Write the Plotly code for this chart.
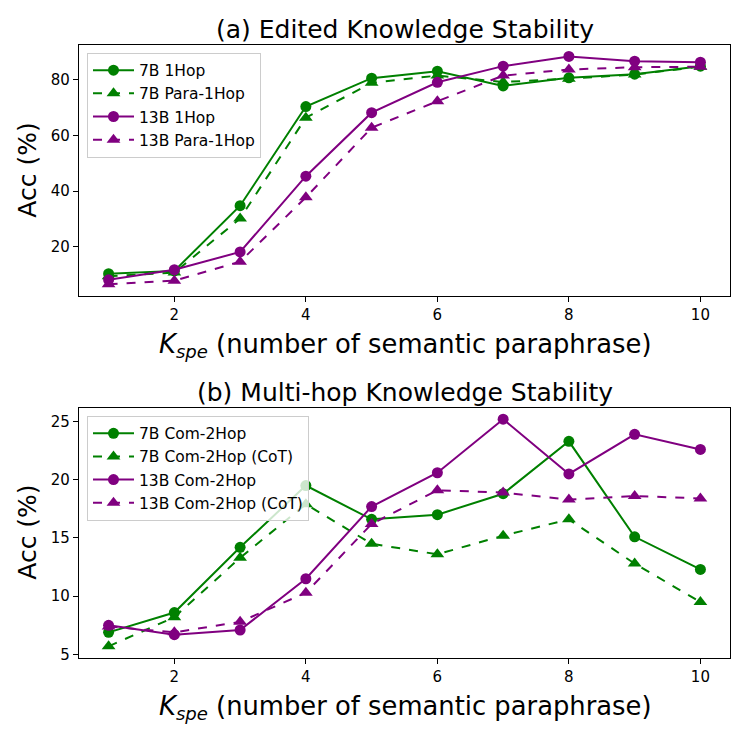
import plotly.graph_objects as go

k_values = [1, 2, 3, 4, 5, 6, 7, 8, 9, 10]

# (a) Edited Knowledge Stability
acc_7b_1hop = [10.4, 11.4, 34.8, 70.4, 80.6, 83.1, 77.8, 80.7, 82.0, 84.9]
acc_7b_para = [9.5, 10.8, 30.2, 66.4, 78.9, 81.5, 79.2, 80.4, 81.9, 84.7]
acc_13b_1hop = [8.2, 11.8, 18.2, 45.4, 68.2, 79.1, 84.9, 88.4, 86.7, 86.3]
acc_13b_para = [6.6, 7.9, 14.7, 37.8, 62.8, 72.3, 81.5, 83.7, 84.5, 84.7]

# (b) Multi-hop Knowledge Stability
acc_7b_com2 = [6.9, 8.6, 14.2, 19.5, 16.6, 17.0, 18.8, 23.3, 15.1, 12.3]
acc_7b_com2_cot = [5.7, 8.2, 13.3, 17.9, 14.5, 13.6, 15.2, 16.6, 12.8, 9.5]
acc_13b_com2 = [7.5, 6.7, 7.1, 11.5, 17.7, 20.6, 25.2, 20.5, 23.9, 22.6]
acc_13b_com2_cot = [7.4, 6.9, 7.8, 10.3, 16.2, 19.1, 18.9, 18.3, 18.6, 18.4]

top_names = ["7B 1Hop", "7B Para-1Hop", "13B 1Hop", "13B Para-1Hop"]
bot_names = ["7B Com-2Hop", "7B Com-2Hop (CoT)", "13B Com-2Hop", "13B Com-2Hop (CoT)"]
x_ticks = [2, 4, 6, 8, 10]
top_yticks = [20, 40, 60, 80]
bot_yticks = [5, 10, 15, 20, 25]

GREEN = "#008000"
PURPLE = "#800080"
FONT = "DejaVu Sans"

fig = go.Figure()

styles = [
    (GREEN, "solid", "circle", 11),
    (GREEN, "dash", "triangle-up", 12),
    (PURPLE, "solid", "circle", 11),
    (PURPLE, "dash", "triangle-up", 12),
]

for name, ys, (c, d, m, s) in zip(top_names, [acc_7b_1hop, acc_7b_para, acc_13b_1hop, acc_13b_para], styles):
    fig.add_trace(go.Scatter(
        x=k_values, y=ys, name=name, mode="lines+markers",
        line=dict(color=c, width=2, dash=d),
        marker=dict(color=c, size=s, symbol=m),
        xaxis="x", yaxis="y", legend="legend",
    ))

for name, ys, (c, d, m, s) in zip(bot_names, [acc_7b_com2, acc_7b_com2_cot, acc_13b_com2, acc_13b_com2_cot], styles):
    fig.add_trace(go.Scatter(
        x=k_values, y=ys, name=name, mode="lines+markers",
        line=dict(color=c, width=2, dash=d),
        marker=dict(color=c, size=s, symbol=m),
        xaxis="x2", yaxis="y2", legend="legend2",
    ))

axis_common = dict(
    showline=True, mirror=True, linecolor="black", linewidth=1.2,
    ticks="outside", ticklen=5, tickcolor="black", tickwidth=1.2,
    showgrid=False, zeroline=False,
    tickfont=dict(family=FONT, size=15, color="black"),
)

W = 747.0
OFF = 8.0  # page body margin offset


def fx(px):
    return (px - OFF) / W


def fy(py):
    return 1 - (py - OFF) / W


x_dom = [fx(79), fx(730)]
legend_common = dict(
    xanchor="left", yanchor="top",
    bgcolor="rgba(255,255,255,0.8)", bordercolor="#cccccc", borderwidth=1,
    font=dict(family=FONT, size=15.5, color="black"), tracegroupgap=0,
    itemwidth=41,
)
fig.update_layout(
    width=747, height=747,
    margin=dict(l=0, r=0, t=0, b=0),
    paper_bgcolor="white", plot_bgcolor="white",
    font=dict(family=FONT, color="black"),
    xaxis=dict(domain=x_dom, anchor="y", range=[0.55, 10.45], tickvals=x_ticks, **axis_common),
    yaxis=dict(domain=[fy(298), fy(45)], anchor="x", range=[2.5, 92.6], tickvals=top_yticks, **axis_common),
    xaxis2=dict(domain=x_dom, anchor="y2", range=[0.55, 10.45], tickvals=x_ticks, **axis_common),
    yaxis2=dict(domain=[fy(663), fy(411)], anchor="x2", range=[4.72, 26.18], tickvals=bot_yticks, **axis_common),
    legend=dict(x=fx(87), y=fy(53), **legend_common),
    legend2=dict(x=fx(87), y=fy(419), **legend_common),
)

xlabel = "<i>K</i><sub><i>spe</i></sub> (number of semantic paraphrase)"
cx = fx((79 + 730) / 2)


def ann(text, x, y, angle=0, size=25):
    return dict(text=text, x=x, y=y, textangle=angle,
                xref="paper", yref="paper", showarrow=False,
                xanchor="center", yanchor="middle",
                font=dict(family=FONT, size=size, color="black"))


annotations = [
    ann("(a) Edited Knowledge Stability", cx, fy(30)),
    ann("(b) Multi-hop Knowledge Stability", cx, fy(396)),
    ann(xlabel, cx, fy(348), size=25.8),
    ann(xlabel, cx, fy(713), size=25.8),
    ann("Acc (%)", fx(28), fy(172), -90),
    ann("Acc (%)", fx(28), fy(537), -90),
]
fig.update_layout(annotations=annotations)

fig.write_html("out.html")
